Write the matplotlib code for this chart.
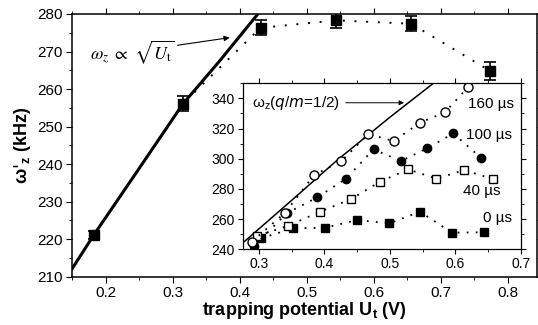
import matplotlib
matplotlib.use('Agg')
import matplotlib.pyplot as plt
from matplotlib.ticker import MultipleLocator

plt.rcParams['font.family'] = ['Liberation Sans', 'DejaVu Sans']
plt.rcParams['mathtext.fontset'] = 'dejavusans'

# main plot: measured frequency vs trapping potential
u_main = [0.182, 0.315, 0.431, 0.544, 0.656, 0.773]
w_main = [221.1, 256.1, 276.3, 278.3, 277.4, 264.9]
w_err = [1.0, 2.0, 2.0, 2.0, 2.0, 2.4]

# sqrt(U_t) guide line
u_fit = [0.15, 0.182, 0.25, 0.315, 0.37, 0.427]
w_fit = [212.2, 221.1, 238.9, 256.0, 267.5, 280.0]

# inset: four delays
u_160 = [0.289, 0.340, 0.384, 0.426, 0.467, 0.506, 0.546, 0.584, 0.620]
w_160 = [245.1, 264.3, 289.2, 298.5, 316.4, 311.7, 323.9, 330.7, 347.7]
u_100 = [0.293, 0.342, 0.389, 0.433, 0.475, 0.517, 0.557, 0.597, 0.639]
w_100 = [242.4, 263.8, 274.4, 286.8, 306.2, 298.5, 306.9, 316.8, 300.7]
u_40 = [0.297, 0.345, 0.393, 0.440, 0.485, 0.528, 0.571, 0.614, 0.657]
w_40 = [248.8, 255.7, 264.9, 273.1, 284.8, 293.0, 286.8, 292.5, 286.6]
u_0 = [0.303, 0.352, 0.401, 0.450, 0.499, 0.546, 0.595, 0.644]
w_0 = [247.3, 253.9, 254.3, 259.4, 257.2, 264.9, 251.0, 251.3]

# q/m = 1/2 line in inset
u_q = [0.2775, 0.35, 0.4198, 0.50, 0.565]
w_q = [245.1, 272.5, 299.2, 327.5, 349.5]

dots = (0, (1, 5))

fig = plt.figure(figsize=(5.38, 3.25), dpi=100)
ax = fig.add_axes([0.1344, 0.1486, 0.8636, 0.8084])

ax.plot(u_main, w_main, color='black', linestyle=dots, linewidth=1.4)
ax.plot(u_fit, w_fit, color='black', linewidth=2.2)
ax.errorbar(u_main, w_main, yerr=w_err, fmt='s', color='black', markersize=7,
            capsize=4, elinewidth=1.2, capthick=1.2)

ax.set_xlim(0.15, 0.8436)
ax.set_ylim(210, 280)
ax.xaxis.set_major_locator(MultipleLocator(0.1))
ax.xaxis.set_minor_locator(MultipleLocator(0.05))
ax.yaxis.set_major_locator(MultipleLocator(10))
ax.yaxis.set_minor_locator(MultipleLocator(5))
ax.tick_params(which='both', direction='out', top=True, right=True, labelsize=11)
ax.tick_params(which='major', length=4, pad=3)
ax.tick_params(which='minor', length=2.5)
for s in ax.spines.values():
    s.set_linewidth(1.1)
ax.set_xticks([0.2, 0.3, 0.4, 0.5, 0.6, 0.7, 0.8])
ax.set_xticklabels(['0.2', '0.3', '0.4', '0.5', '0.6', '0.7', '0.8'])

ax.set_xlabel(r'trapping potential U$_\mathregular{t}$ (V)', fontsize=13,
              fontweight='bold', labelpad=0)
ax.set_ylabel(r"ω$'_\mathregular{z}$ (kHz)", fontsize=13,
              fontweight='bold', labelpad=3)

ax.annotate(r'$\omega_z\ \propto\ \sqrt{U_\mathrm{t}}$', xy=(0.385, 273.7),
            xytext=(0.1764, 269.9), ha='left', va='center', fontsize=13,
            math_fontfamily='stix',
            arrowprops=dict(arrowstyle='-|>', color='black', lw=0.8,
                            mutation_scale=8, shrinkA=0, shrinkB=0))

# inset
ins = fig.add_axes([0.4511, 0.2329, 0.5167, 0.5108])
ins.plot(u_q, w_q, color='black', linewidth=1.1)
ins.plot(u_0, w_0, color='black', linestyle=(0, (1, 4)), linewidth=1.3,
         marker='s', markersize=5.5)
ins.plot(u_40, w_40, color='black', linestyle=(0, (1, 4)), linewidth=1.3,
         marker='s', markersize=5.5, markerfacecolor='white')
ins.plot(u_100, w_100, color='black', linestyle=(0, (1, 4)), linewidth=1.3,
         marker='o', markersize=6)
ins.plot(u_160, w_160, color='black', linestyle=(0, (1, 4)), linewidth=1.3,
         marker='o', markersize=6.5, markerfacecolor='white')

ins.set_xlim(0.275, 0.7)
ins.set_ylim(240, 350)
ins.xaxis.set_major_locator(MultipleLocator(0.1))
ins.xaxis.set_minor_locator(MultipleLocator(0.05))
ins.yaxis.set_major_locator(MultipleLocator(20))
ins.yaxis.set_minor_locator(MultipleLocator(10))
ins.tick_params(which='both', direction='out', top=True, right=True,
                labelsize=10, pad=2)
ins.tick_params(which='major', length=3.5)
ins.tick_params(which='minor', length=2)
ins.set_xticks([0.3, 0.4, 0.5, 0.6, 0.7])
ins.set_xticklabels(['0.3', '0.4', '0.5', '0.6', '0.7'])
for s in ins.spines.values():
    s.set_linewidth(0.9)

ins.annotate(r'ω$_\mathregular{z}$($q$/$m$=1/2)', xy=(0.5217, 337.1),
             xytext=(0.2895, 337.1), ha='left', va='center', fontsize=11,
             arrowprops=dict(arrowstyle='-|>', color='black', lw=0.7,
                             mutation_scale=7, shrinkA=2, shrinkB=0))
ins.text(0.69, 336.2, '160 µs', ha='right', va='center', fontsize=11)
ins.text(0.687, 315.7, '100 µs', ha='right', va='center', fontsize=11)
ins.text(0.6695, 278.6, '40 µs', ha='right', va='center', fontsize=11)
ins.text(0.687, 260.5, '0 µs', ha='right', va='center', fontsize=11)

fig.savefig('out.png', dpi=100)
